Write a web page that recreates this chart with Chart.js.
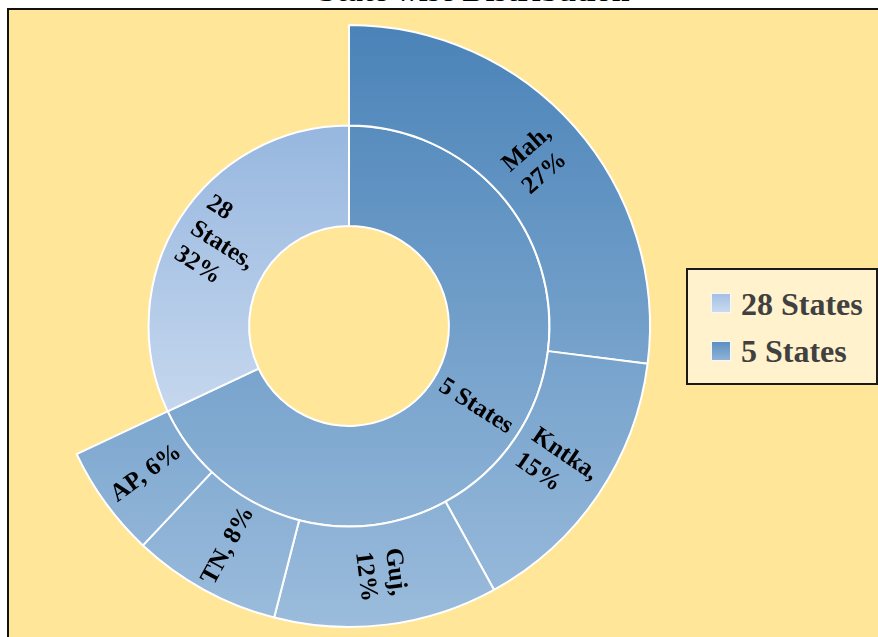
<!DOCTYPE html>
<html>
<head>
<meta charset="utf-8">
<script src="https://cdn.jsdelivr.net/npm/chart.js@4.4.0/dist/chart.umd.min.js"></script>
<style>
    html, body { margin: 0; padding: 0; background: #fff; overflow: hidden; }
    body { width: 878px; height: 637px; position: relative; font-family: "Liberation Serif", "Times New Roman", serif; }
    .frame {
        position: absolute; left: 7px; top: 8px; width: 940px; height: 700px;
        border: 2px solid #111; background: #FFE699;
    }
    .title {
        position: absolute; left: 274px; width: 400px; top: -26px;
        text-align: center; font-weight: bold; font-size: 32px; line-height: 1; color: #000;
    }
    #chartBox { position: absolute; left: 0; top: 0; width: 878px; height: 637px; }
    .legend {
        position: absolute; left: 686px; top: 268px; width: 188px; height: 113px;
        border: 2px solid #1a1a1a; background: #FFF2CC;
    }
    .legend .swatch {
        position: absolute; left: 23px; width: 18px; height: 18px; border: 1px solid #f4f8fc;
    }
    .legend .text {
        position: absolute; left: 53px; white-space: nowrap;
        font-weight: bold; font-size: 32px; line-height: 1; color: #404040;
    }
</style>
</head>
<body>
<div class="frame"></div>
<div class="title">State wise Distribution</div>
<div id="chartBox"><canvas id="sunburst"></canvas></div>
<div class="legend" id="legend"></div>

<script>
// Data
const parentLabels = ['5 States', '28 States'];
const parentValues = [68, 32];
const childLabels = ['Mah', 'Kntka', 'Guj', 'TN', 'AP'];
const childValues = [27, 15, 12, 8, 6];
const childParent = [0, 0, 0, 0, 0];   // index into parentLabels
const legendOrder = [1, 0];            // legend lists 28 States first

document.addEventListener('DOMContentLoaded', function() {
    const canvas = document.getElementById('sunburst');

    // colour families, vertical gradient over the chart area
    function familyGradient(chart, parentIdx) {
        const area = chart.chartArea;
        if (!area) return parentIdx === 0 ? '#73A0CA' : '#AFC7E7';
        const g = chart.ctx.createLinearGradient(0, area.top, 0, area.bottom);
        if (parentIdx === 0) {
            g.addColorStop(0, '#4A83B8');
            g.addColorStop(1, '#9BBCDC');
        } else {
            g.addColorStop(0, '#87ACDA');
            g.addColorStop(0.17, '#97B7DF');
            g.addColorStop(0.64, '#C5D7EE');
            g.addColorStop(1, '#E6EEF8');
        }
        return g;
    }

    // outer ring: children, with a blank gap for parents that have none
    const outerData = [], outerLabels = [], outerParent = [];
    parentLabels.forEach((p, pi) => {
        const kids = childLabels.map((c, ci) => ci).filter(ci => childParent[ci] === pi);
        if (kids.length) {
            kids.forEach(ci => {
                outerData.push(childValues[ci]);
                outerLabels.push(childLabels[ci]);
                outerParent.push(pi);
            });
        } else {
            outerData.push(parentValues[pi]);
            outerLabels.push(null);
            outerParent.push(pi);
        }
    });
    const parentIsLeaf = parentLabels.map((p, pi) => !childParent.includes(pi));

    // word wrap helper
    function wrapText(ctx, text, maxW) {
        const words = text.split(' ');
        const lines = [];
        let cur = '';
        words.forEach(w => {
            const test = cur ? cur + ' ' + w : w;
            if (cur && ctx.measureText(test).width > maxW) {
                lines.push(cur);
                cur = w;
            } else {
                cur = test;
            }
        });
        if (cur) lines.push(cur);
        return lines;
    }

    // radial data labels, lines left aligned inside a centred block
    const arcLabels = {
        id: 'arcLabels',
        afterDatasetsDraw(chart) {
            const ctx = chart.ctx;
            ctx.save();
            ctx.font = 'bold 25px "Liberation Serif", "Times New Roman", serif';
            ctx.fillStyle = '#000';
            ctx.textAlign = 'left';
            ctx.textBaseline = 'middle';
            chart.data.datasets.forEach((ds, di) => {
                const meta = chart.getDatasetMeta(di);
                meta.data.forEach((arc, i) => {
                    const text = ds.labelText[i];
                    if (!text) return;
                    const p = arc.getProps(['x', 'y', 'startAngle', 'endAngle', 'innerRadius', 'outerRadius'], true);
                    const mid = (p.startAngle + p.endAngle) / 2;
                    const r = (p.innerRadius + p.outerRadius) / 2;
                    const cx = p.x + Math.cos(mid) * r;
                    const cy = p.y + Math.sin(mid) * r;
                    let rot = mid;
                    if (Math.cos(mid) < 0) rot += Math.PI;
                    const lines = wrapText(ctx, text, p.outerRadius - p.innerRadius - 8);
                    const blockW = Math.max(...lines.map(l => ctx.measureText(l).width));
                    const lh = 30;
                    ctx.save();
                    ctx.translate(cx, cy);
                    ctx.rotate(rot);
                    lines.forEach((ln, k) => {
                        ctx.fillText(ln, -blockW / 2, (k - (lines.length - 1) / 2) * lh);
                    });
                    ctx.restore();
                });
            });
            ctx.restore();
        }
    };

    new Chart(canvas, {
        type: 'doughnut',
        data: {
            labels: outerLabels,
            datasets: [{
                data: outerData,
                labelText: outerLabels.map((l, i) => l ? l + ', ' + outerData[i] + '%' : null),
                backgroundColor: (c) => outerLabels[c.dataIndex] ? familyGradient(c.chart, outerParent[c.dataIndex]) : 'rgba(0,0,0,0)',
                borderColor: '#ffffff',
                borderWidth: (c) => outerLabels[c.dataIndex] ? 2 : 0,
                hoverOffset: 0
            }, {
                data: parentValues,
                labelText: parentLabels.map((l, i) => parentIsLeaf[i] ? l + ', ' + parentValues[i] + '%' : l),
                backgroundColor: (c) => familyGradient(c.chart, c.dataIndex),
                borderColor: '#ffffff',
                borderWidth: 2,
                hoverOffset: 0
            }]
        },
        options: {
            responsive: true,
            maintainAspectRatio: false,
            animation: false,
            cutout: '33.2%',
            layout: {
                padding: { left: 47, top: 24, right: 227, bottom: 9 }
            },
            plugins: {
                legend: { display: false },
                title: { display: false },
                tooltip: { enabled: false }
            }
        },
        plugins: [arcLabels]
    });

    // HTML legend
    const legend = document.getElementById('legend');
    const swatchColors = [
        'linear-gradient(#5C90C2, #8FB3D6)',
        'linear-gradient(#A3C0E4, #C9DAEF)'
    ];
    legendOrder.forEach((pi, row) => {
        const sw = document.createElement('div');
        sw.className = 'swatch';
        sw.style.top = (23 + row * 48) + 'px';
        sw.style.background = swatchColors[pi];
        legend.appendChild(sw);
        const tx = document.createElement('div');
        tx.className = 'text';
        tx.style.top = (18 + row * 47) + 'px';
        tx.textContent = parentLabels[pi];
        legend.appendChild(tx);
    });
});
</script>
</body>
</html>
